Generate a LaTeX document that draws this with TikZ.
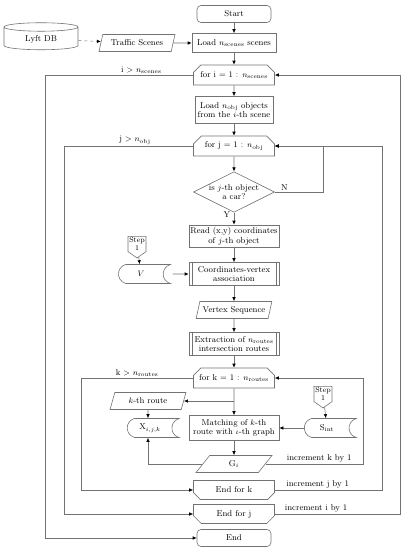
\documentclass[tikz,border=0pt]{standalone}
\usepackage{amsmath}
\usetikzlibrary{arrows.meta,calc,shapes.geometric,shapes.misc,shapes.symbols}
\tikzset{base/.style={draw=black!55,line width=0.6pt,align=center,font=\fontsize{8.5}{9.5}\selectfont,inner sep=1pt},
  proc/.style={base,minimum width=84pt,minimum height=19pt},
  term/.style={base,rounded corners=4pt,minimum width=74pt,minimum height=17pt},
  predef/.style={proc,minimum width=90pt,minimum height=23pt,
    path picture={\draw[black!55,line width=0.6pt] ([xshift=3pt]path picture bounding box.north west) -- ([xshift=3pt]path picture bounding box.south west)
      ([xshift=-3pt]path picture bounding box.north east) -- ([xshift=-3pt]path picture bounding box.south east);}},
  loopbeg/.style={base,chamfered rectangle,chamfered rectangle corners={north west,north east},chamfered rectangle xsep=5pt,minimum width=81pt,minimum height=20pt},
  loopend/.style={base,chamfered rectangle,chamfered rectangle corners={south west,south east},chamfered rectangle xsep=5pt,minimum width=81pt,minimum height=19pt},
  io/.style={base,trapezium,trapezium left angle=70,trapezium right angle=110,trapezium stretches=true,minimum width=76pt,minimum height=17pt},
  stored/.style={base,rounded rectangle,rounded rectangle right arc=concave,rounded rectangle arc length=150,minimum width=54pt,minimum height=19pt},
  decision/.style={base,diamond,aspect=2,minimum width=80pt,minimum height=40pt,inner sep=0pt},
  offpage/.style={base,signal,signal to=south,signal pointer angle=110,font=\fontsize{7.5}{8}\selectfont,minimum width=18pt,inner sep=1pt},
  db/.style={base,cylinder,shape border rotate=90,aspect=0.25,minimum width=74pt,minimum height=27pt},
  line/.style={draw=black!55,line width=0.6pt},
  arr/.style={line,-{Latex[length=4pt,width=3.5pt,black]}},
  lbl/.style={font=\fontsize{8.5}{9.5}\selectfont,inner sep=1.5pt}}
\begin{document}
\begin{tikzpicture}[x=1pt,y=-1pt]
\useasboundingbox (0,0) rectangle (405,550);
% main column
\node[term] (start) at (234,14) {Start};
\node[db] (lyft) at (41,39) {Lyft DB};
\node[io] (traffic) at (137,43) {Traffic Scenes};
\node[proc] (load) at (234,43) {Load $n_{\mathrm{scenes}}$ scenes};
\node[loopbeg] (fori) at (234,75) {for i = 1 : $n_{\mathrm{scenes}}$};
\node[proc,minimum width=78pt,minimum height=27pt] (loadobj) at (234,110) {Load $n_{\mathrm{obj}}$ objects\\from the $i$-th scene};
\node[loopbeg] (forj) at (234,146) {for j = 1 : $n_{\mathrm{obj}}$};
\node[decision] (car) at (234,192) {is $j$-th object\\a car?};
\node[proc,minimum width=90pt,minimum height=22pt] (read) at (234,236) {Read (x,y) coordinates\\of $j$-th object};
\node[offpage] (stepa) at (137,244) {Step\\1};
\node[stored] (vset) at (141,274) {$V$};
\node[predef] (assoc) at (234,274) {Coordinates-vertex\\association};
\node[io] (vseq) at (234,310) {Vertex Sequence};
\node[predef] (extract) at (234,344) {Extraction of $n_{\mathrm{routes}}$\\intersection routes};
\node[loopbeg] (fork) at (234,378) {for k = 1 : $n_{\mathrm{routes}}$};
% inner loop
\node[io] (route) at (148,401) {$k$-th route};
\node[stored] (xset) at (150,428) {X$_{i,j,k}$};
\node[offpage] (stepb) at (323,394) {Step\\1};
\node[stored] (sint) at (327,428) {S$_{\mathrm{int}}$};
\node[proc,minimum width=90pt,minimum height=25pt] (match) at (234,428) {Matching of $k$-th\\route with $\iota$-th graph};
\node[io] (gi) at (234,464) {G$_i$};
\node[loopend] (endk) at (234,490) {End for k};
\node[loopend] (endj) at (234,514) {End for j};
\node[term] (stop) at (234,538) {End};
% loop columns
\coordinate (kr) at (363,0); \coordinate (jr) at (382,0); \coordinate (ir) at (400,0);
\coordinate (kl) at (81,0); \coordinate (jl) at (64,0); \coordinate (il) at (45,0);
% flow
\draw[arr] (start) -- (load);
\draw[arr,dashed] (lyft) -- (traffic);
\draw[arr] (traffic) -- (load);
\draw[arr] (load) -- (fori);
\draw[arr] (fori) -- (loadobj);
\draw[arr] (loadobj) -- (forj);
\draw[arr] (forj) -- (car);
\draw[arr] (car) -- node[lbl,pos=0.2,left,inner sep=3.5pt]{Y} (read);
\draw[arr] (car.east) -| node[lbl,pos=0.1,above]{N} ($(forj.east)+(48,0)$) -- (forj.east);
\draw[arr] (read) -- (assoc);
\draw[arr] (stepa) -- (vset);
\draw[arr] (vset) -- (assoc);
\draw[arr] (assoc) -- (vseq);
\draw[arr] (vseq) -- (extract);
\draw[arr] (extract) -- (fork);
\draw[arr] (fork) -- (match);
\draw[arr] (fork.south |- route.east) -- (route.east);
\draw[arr] (route) -- (route |- xset.north);
\draw[arr] (stepb) -- (sint);
\draw[arr] (sint) -- (match);
\draw[arr] (match) -- (gi);
\draw[arr] (gi.west) -| (route |- xset.south);
% loop returns
\draw[arr] (gi.east) -- node[lbl,above,pos=0.55]{increment k by 1} (gi.east -| kr) |- (fork.east);
\draw[arr] (endk.east) -- node[lbl,above,pos=0.4]{increment j by 1} (endk.east -| jr) |- (forj.east);
\draw[arr] (endj.east) -- node[lbl,above,pos=0.33]{increment i by 1} (endj.east -| ir) |- (fori.east);
\draw[arr] (fork.west) -- node[lbl,above]{k $>$ $n_{\mathrm{routes}}$} (fork.west -| kl) |- (endk.west);
\draw[arr] (forj.west) -- node[lbl,above,pos=0.45]{j $>$ $n_{\mathrm{obj}}$} (forj.west -| jl) |- (endj.west);
\draw[arr] (fori.west) -- node[lbl,above,pos=0.35]{i $>$ $n_{\mathrm{scenes}}$} (fori.west -| il) |- (stop.west);
\end{tikzpicture}
\end{document}
